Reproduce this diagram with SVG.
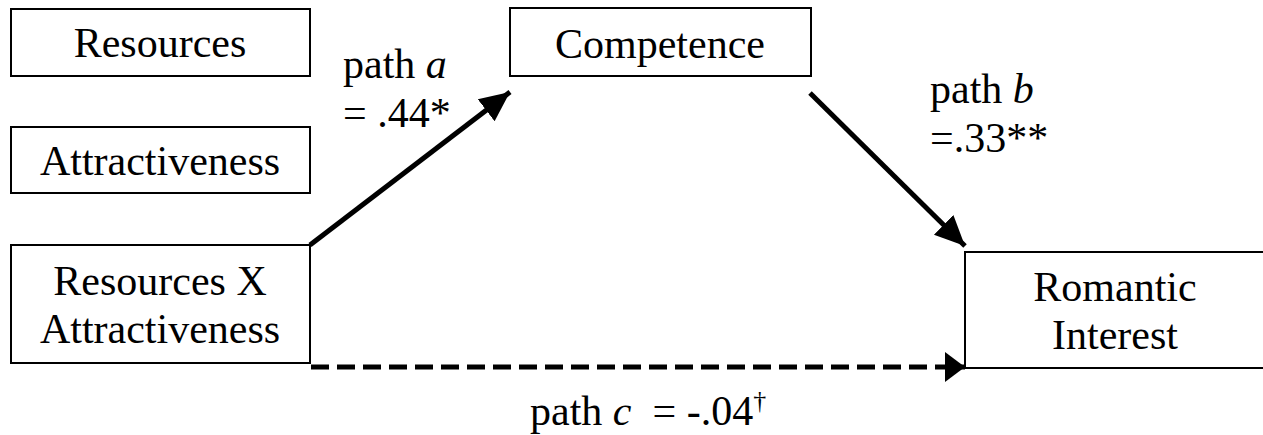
<svg xmlns="http://www.w3.org/2000/svg" width="1263" height="435" viewBox="0 0 1263 435">
<style>
.box{fill:#fff;stroke:#000;stroke-width:2}
.t{font-family:"Liberation Serif","Times New Roman",serif;font-size:42px;fill:#000}
.c{text-anchor:middle}
.conn{stroke:#000;stroke-width:5;fill:none}
.dash{stroke-dasharray:18 8}
</style>
<defs>
<marker id="ah" markerUnits="userSpaceOnUse" markerWidth="30" markerHeight="30" viewBox="0 0 26 24" refX="26" refY="12" orient="auto">
<path d="M0,0 L26,12 L0,24 Z" fill="#000"/>
</marker>
<marker id="ah2" markerUnits="userSpaceOnUse" markerWidth="20" markerHeight="30" viewBox="0 0 16 24" refX="16" refY="12" orient="auto">
<path d="M0,0 L16,12 L0,24 Z" fill="#000"/>
</marker>
</defs>
<rect width="1263" height="435" fill="#fff"/>
<g id="connectors">
<line class="conn" x1="310" y1="245" x2="510" y2="92" marker-end="url(#ah)"/>
<line class="conn" x1="810" y1="93" x2="965" y2="246" marker-end="url(#ah)"/>
<line class="conn dash" x1="311" y1="367" x2="965" y2="367" marker-end="url(#ah2)"/>
</g>
<g id="resources">
<rect class="box" x="11" y="9" width="299" height="67"/>
<text class="t c" x="160" y="57">Resources</text>
</g>
<g id="attractiveness">
<rect class="box" x="11" y="127" width="299" height="66"/>
<text class="t c" x="160" y="175">Attractiveness</text>
</g>
<g id="competence">
<rect class="box" x="510" y="8" width="301" height="68"/>
<text class="t c" x="660" y="58">Competence</text>
</g>
<g id="interaction">
<rect class="box" x="11" y="245" width="299" height="118"/>
<text class="t c" x="160" y="295">Resources X</text>
<text class="t c" x="160" y="343">Attractiveness</text>
</g>
<g id="romantic">
<rect class="box" x="965" y="252" width="310" height="116"/>
<text class="t c" x="1115" y="301">Romantic</text>
<text class="t c" x="1115" y="349">Interest</text>
</g>
<g id="labels">
<text class="t" x="343" y="78">path <tspan font-style="italic">a</tspan></text>
<text class="t" x="343" y="127">= .44*</text>
<text class="t" x="930" y="103">path <tspan font-style="italic">b</tspan></text>
<text class="t" x="930" y="152">=.33**</text>
<text class="t" x="530" y="425" xml:space="preserve">path <tspan font-style="italic">c</tspan>  = -.04<tspan font-size="26" dy="-16">†</tspan></text>
</g>
</svg>
